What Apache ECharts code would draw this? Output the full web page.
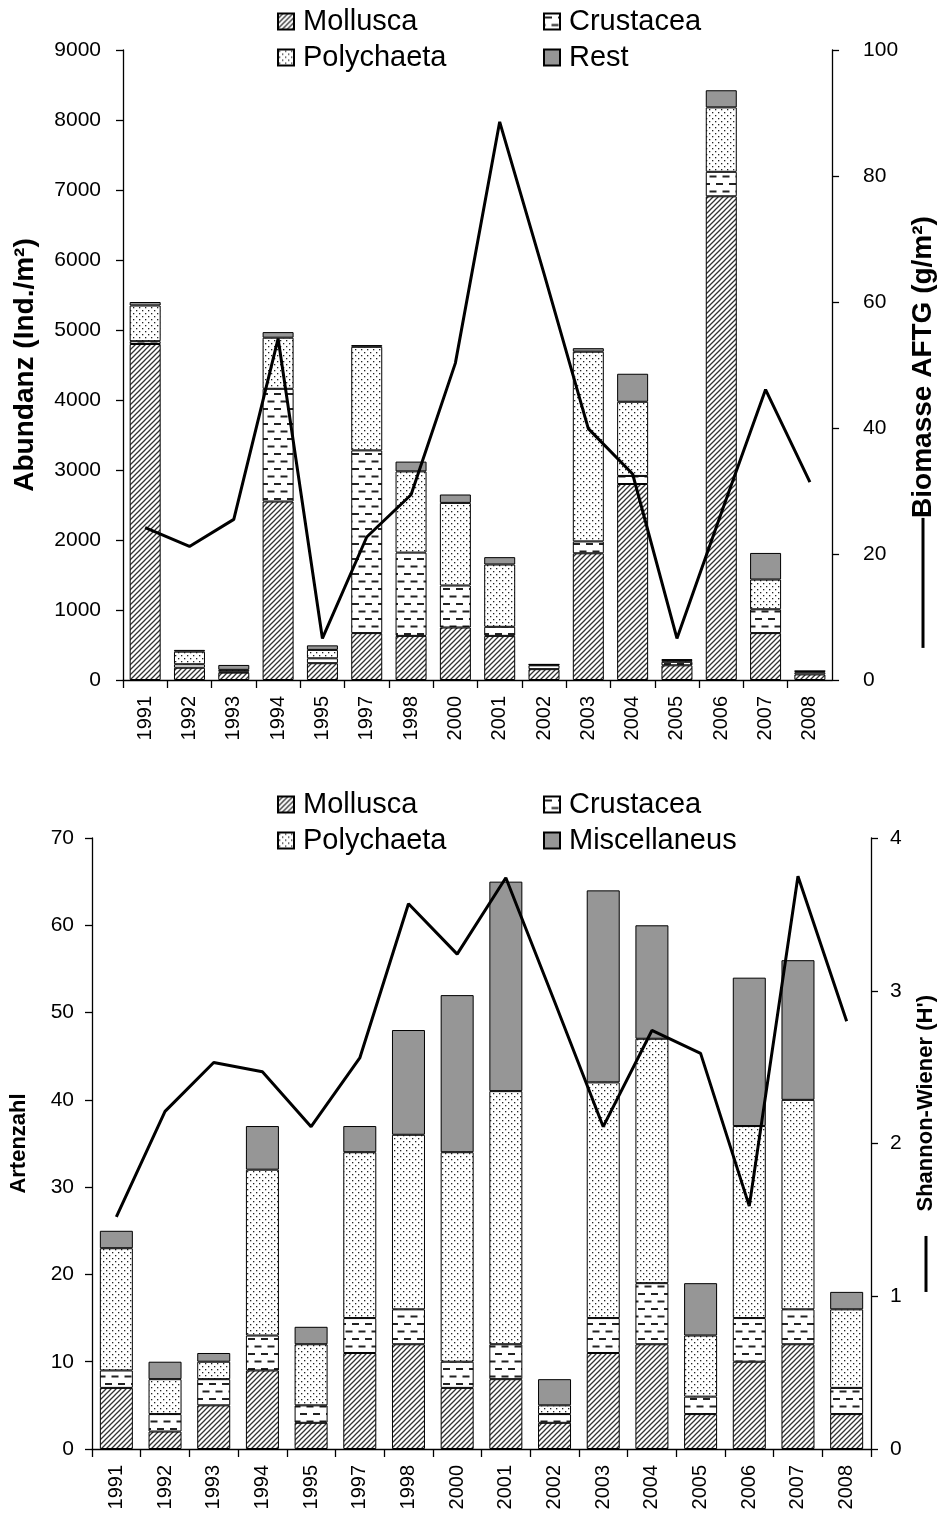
<!DOCTYPE html>
<html><head><meta charset="utf-8">
<script src="https://cdn.jsdelivr.net/npm/echarts@6/dist/echarts.min.js"></script>
<style>html,body{margin:0;padding:0;background:#fff}#c{width:945px;height:1535px}</style>
</head><body><div id="c"></div>
<script>
// ---- data ----
var years = ['1991','1992','1993','1994','1995','1997','1998','2000','2001','2002','2003','2004','2005','2006','2007','2008'];
// Abundance (Ind./m²)
var abMollusca   = [4800,175,105,2550,240,670,630,750,630,155,1810,2800,210,6910,670,80];
var abCrustacea  = [40,50,15,1610,70,2610,1190,600,130,55,170,115,50,350,340,30];
var abPolychaeta = [510,180,25,730,120,1480,1160,1180,890,10,2710,1060,25,920,425,15];
var abRest       = [50,25,70,80,65,25,140,120,105,5,50,400,10,245,380,5];
// Biomass AFTG (g/m²)
var biomass = [24.2,21.2,25.5,54.2,6.6,22.7,29.4,50.3,88.6,64.5,39.9,32.7,6.6,26.5,46.1,31.4];
// Species counts
var spMollusca   = [7,2,5,9,3,11,12,7,8,3,11,12,4,10,12,4];
var spCrustacea  = [2,2,3,4,2,4,4,3,4,1,4,7,2,5,4,3];
var spPolychaeta = [14,4,2,19,7,19,20,24,29,1,27,28,7,22,24,9];
var spMisc       = [2,2,1,5,2,3,12,18,24,3,22,13,6,17,16,2];
// Shannon-Wiener H'
var shannon = [1.52,2.21,2.53,2.47,2.11,2.56,3.57,3.24,3.74,2.93,2.11,2.74,2.59,1.59,3.75,2.80];

// ---- patterns ----
function mk(w,h,draw){var c=document.createElement('canvas');c.width=w;c.height=h;var g=c.getContext('2d');g.fillStyle='#fff';g.fillRect(0,0,w,h);draw(g);return {image:c,repeat:'repeat'};}
var patHatch = mk(5,5,function(g){g.strokeStyle='#333';g.lineWidth=1.3;g.beginPath();g.moveTo(-1,6);g.lineTo(6,-1);g.moveTo(-1,1);g.lineTo(1,-1);g.moveTo(4,6);g.lineTo(6,4);g.stroke();});
var patDash = mk(13,15,function(g){g.fillStyle='#222';g.fillRect(1,3,7,2);g.fillRect(7.5,10.5,7,2);g.fillRect(-5.5,10.5,7,2);});
var patDot = mk(6,6,function(g){g.fillStyle='#222';g.fillRect(1,1,1.3,1.3);g.fillRect(4,4,1.3,1.3);});
var gray = '#969696';
var FONT = 'Liberation Sans, Arial, sans-serif';

function bar(name, data, pat, xi, yi, bw){
  return {name:name,type:'bar',stack:'s'+xi,xAxisIndex:xi,yAxisIndex:yi,data:data,barWidth:bw,
    itemStyle:{color:pat,borderColor:'#000',borderWidth:1},emphasis:{disabled:true}};
}
function line(name, data, xi, yi){
  return {name:name,type:'line',xAxisIndex:xi,yAxisIndex:yi,data:data,symbol:'none',z:10,
    lineStyle:{color:'#000',width:3},itemStyle:{color:'#000'},emphasis:{disabled:true}};
}
function xAx(gi){
  return {type:'category',gridIndex:gi,data:years,
    axisLine:{lineStyle:{color:'#000',width:1.3}},
    axisTick:{show:true,length:8,lineStyle:{color:'#000',width:1.3}},
    axisLabel:{rotate:90,color:'#000',fontSize:20,fontFamily:FONT,margin:16,interval:0}};
}
function yAx(gi,pos,min,max,iv,name,gap,margin,nfs,lnw,spw){
  return {type:'value',gridIndex:gi,position:pos,min:min,max:max,interval:iv,
    name:name,nameLocation:'middle',nameGap:gap,nameRotate:90,
    nameTextStyle:{color:'#000',fontSize:nfs,fontWeight:'bold',fontFamily:FONT,
      rich:{ln:{width:lnw,height:3,backgroundColor:'#000'},sp:{width:spw||0,height:3}}},
    axisLine:{show:true,lineStyle:{color:'#000',width:1.3}},
    axisTick:{show:true,length:7,lineStyle:{color:'#000',width:1.3}},
    axisLabel:{color:'#000',fontSize:21,fontFamily:FONT,margin:margin,formatter:function(v){return String(v);}},
    splitLine:{show:false}};
}
function leg(data,left,top){
  return {data:data,orient:'vertical',left:left,top:top,itemWidth:16,itemHeight:16,itemGap:7,icon:'rect',
    selectedMode:false,textStyle:{color:'#000',fontSize:29,fontFamily:FONT,lineHeight:29,padding:[0,0,0,4]},padding:0};
}

var chart = echarts.init(document.getElementById('c'),null,{renderer:'canvas'});
chart.setOption({
  animation:false,
  backgroundColor:'#fff',
  grid:[{left:123,right:105,top:50,height:630},{left:92,right:71,top:838,height:611}],
  xAxis:[xAx(0),xAx(1)],
  yAxis:[
    yAx(0,'left',0,9000,1000,'Abundanz (Ind./m²)',84,22,28,0),
    yAx(0,'right',0,100,20,'{ln|}Biomasse AFTG (g/m²){sp|}',74,31,28,130,134),
    yAx(1,'left',0,70,10,'Artenzahl',62,18,22,0),
    yAx(1,'right',0,4,1,"{ln|}    Shannon-Wiener (H')",44,19,22,56)
  ],
  legend:[
    leg(['Mollusca','Polychaeta'],277,7),
    leg(['Crustacea','Rest'],543,7),
    leg(['Mollusca','Polychaeta'],277,790),
    leg(['Crustacea','Miscellaneus'],543,790)
  ],
  series:[
    bar('Mollusca',abMollusca,patHatch,0,0,31),
    bar('Crustacea',abCrustacea,patDash,0,0,31),
    bar('Polychaeta',abPolychaeta,patDot,0,0,31),
    bar('Rest',abRest,gray,0,0,31),
    line('Biomasse',biomass,0,1),
    bar('Mollusca',spMollusca,patHatch,1,2,33),
    bar('Crustacea',spCrustacea,patDash,1,2,33),
    bar('Polychaeta',spPolychaeta,patDot,1,2,33),
    bar('Miscellaneus',spMisc,gray,1,2,33),
    line('Shannon',shannon,1,3)
  ]
});
</script></body></html>
